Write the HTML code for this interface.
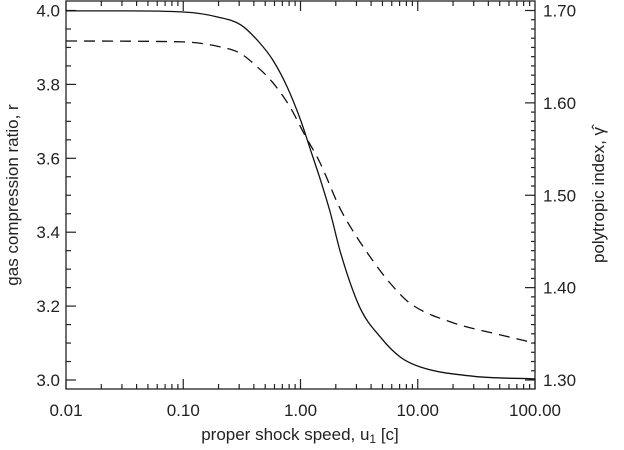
<!DOCTYPE html>
<html><head><meta charset="utf-8"><style>
body{margin:0;background:#fff;}
svg text{font-family:"Liberation Sans",sans-serif;fill:#222;}
</style></head><body>
<svg id="chart" width="624" height="445" xmlns="http://www.w3.org/2000/svg"></svg>
<script>
const uVals=[0.01,0.03,0.1,0.2,0.31,0.45,0.58,0.77,1.0,1.22,1.48,1.8,2.2,3.2,4.8,7.1,10.6,30,100];
const rVals=[3.999,3.999,3.996,3.982,3.961,3.912,3.866,3.793,3.704,3.622,3.541,3.452,3.344,3.197,3.116,3.062,3.035,3.01,3.003];
const uGam=[0.01,0.1,0.2,0.303,0.41,0.58,0.81,1.09,1.47,2.15,2.66,3.94,5.8,8.6,20,50,100];
const gamVals=[1.667,1.666,1.661,1.654,1.641,1.622,1.596,1.565,1.535,1.487,1.466,1.433,1.405,1.383,1.362,1.349,1.340];
const xTicks=[0.01,0.1,1,10,100];
const xTickLabels=["0.01","0.10","1.00","10.00","100.00"];
const rTicks=[3.0,3.2,3.4,3.6,3.8,4.0];
const gTicks=[1.3,1.4,1.5,1.6,1.7];
const gTickLabels=["1.30","1.40","1.50","1.60","1.70"];

const L=66,R=535,T=1,B=389;
const yTop=10.5,yBot=380;
const X=u=>L+(Math.log10(u)+2)/4*(R-L);
const Yr=r=>yBot-(r-3)*(yBot-yTop);
const Yg=g=>yBot-(g-1.3)/0.4*(yBot-yTop);
const svg=document.getElementById('chart');
const NS='http://www.w3.org/2000/svg';
function mk(tag,attrs,parent){const e=document.createElementNS(NS,tag);for(const k in attrs)e.setAttribute(k,attrs[k]);(parent||svg).appendChild(e);return e;}
const frame=mk('rect',{x:L,y:T,width:R-L,height:B-T,fill:'none',stroke:'#222','stroke-width':1.3});


const axes=mk('g',{stroke:'#222','stroke-width':1.2});


for(let d=-2;d<2;d++){for(let m=1;m<10;m++){const u=m*Math.pow(10,d);const x=X(u);const len=m===1?10:5;
mk('line',{x1:x,x2:x,y1:B,y2:B-len},axes);mk('line',{x1:x,x2:x,y1:T,y2:T+len},axes);}}
mk('line',{x1:R,x2:R,y1:B,y2:B-10},axes);
xTicks.forEach((u,i)=>{const t=mk('text',{x:X(u),y:416,'font-size':17,'text-anchor':'middle'});t.textContent=xTickLabels[i];

});
for(let k=0;k<=20;k++){const r=3+k*0.05;const y=Yr(r);const len=k%4===0?10:5;mk('line',{x1:L,x2:L+len,y1:y,y2:y},axes);}
rTicks.forEach(r=>{const t=mk('text',{x:60,y:Yr(r)+6,'font-size':17,'text-anchor':'end'});t.textContent=r.toFixed(1);

});
for(let k=0;k<=40;k++){const g=1.3+k*0.01;const y=Yg(g);const len=k%10===0?10:4;mk('line',{x1:R,x2:R-len,y1:y,y2:y},axes);}
gTicks.forEach((g,i)=>{const t=mk('text',{x:543,y:Yg(g)+6,'font-size':17});t.textContent=gTickLabels[i];

});
// monotone cubic (Fritsch-Carlson) in pixel space
function smooth(xs,ys,fy){
  const px=xs.map(X),py=ys.map(fy),n=px.length;
  const dl=[],m=[];
  for(let i=0;i<n-1;i++)dl.push((py[i+1]-py[i])/(px[i+1]-px[i]));
  m[0]=dl[0];m[n-1]=dl[n-2];
  for(let i=1;i<n-1;i++){m[i]=(dl[i-1]*dl[i]<=0)?0:(dl[i-1]+dl[i])/2;}
  for(let i=0;i<n-1;i++){if(dl[i]===0){m[i]=0;m[i+1]=0;continue;}
    const a=m[i]/dl[i],b=m[i+1]/dl[i],s=a*a+b*b;
    if(s>9){const t=3/Math.sqrt(s);m[i]=t*a*dl[i];m[i+1]=t*b*dl[i];}}
  let d='M'+px[0].toFixed(1)+','+py[0].toFixed(1);
  for(let i=0;i<n-1;i++){const h=(px[i+1]-px[i])/3;
    d+=`C${(px[i]+h).toFixed(1)},${(py[i]+m[i]*h).toFixed(1)} ${(px[i+1]-h).toFixed(1)},${(py[i+1]-m[i+1]*h).toFixed(1)} ${px[i+1].toFixed(1)},${py[i+1].toFixed(1)}`;}
  return d;}
const s1=mk('path',{d:smooth(uVals,rVals,Yr),fill:'none',stroke:'#111','stroke-width':1.3});


const s2=mk('path',{d:smooth(uGam,gamVals,Yg),fill:'none',stroke:'#111','stroke-width':1.3,'stroke-dasharray':'11,7'});


const xt=mk('text',{x:300,y:440,'font-size':17,'text-anchor':'middle'});xt.innerHTML='proper shock speed,  u<tspan font-size="12" dy="3">1</tspan><tspan dy="-3"> [c]</tspan>';


const yt=mk('text',{x:0,y:0,'font-size':17,'text-anchor':'middle',transform:'translate(18,195) rotate(-90)'});yt.textContent='gas compression ratio,  r';


const rt=mk('text',{x:0,y:0,'font-size':17,'text-anchor':'middle',transform:'translate(604,195) rotate(-90)'});rt.textContent='polytropic index,  γ\u0302';


</script>
</body></html>
